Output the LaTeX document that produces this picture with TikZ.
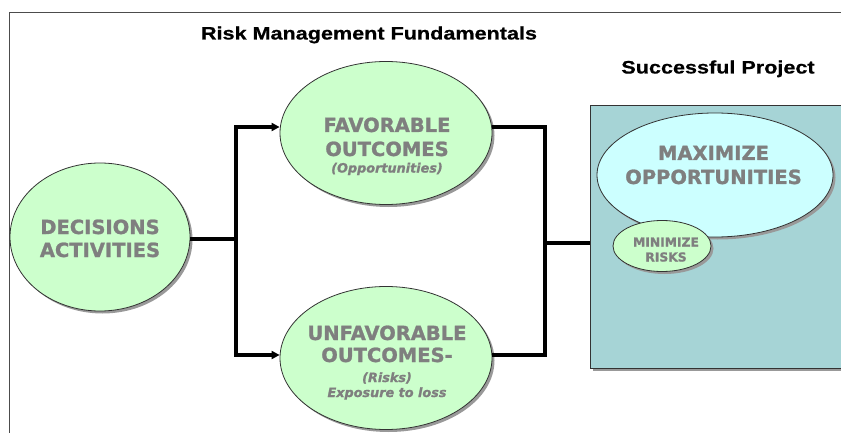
\documentclass[tikz,border=0pt]{standalone}
\usepackage{fontspec}
\setmainfont{Liberation Sans}[BoldFeatures={FakeBold=0.6}]
\newfontfamily\dv{DejaVu Sans}[BoldFeatures={FakeBold=1.2}, BoldItalicFeatures={FakeBold=1.2}]
\usetikzlibrary{shapes.geometric,shadows,arrows.meta}
\definecolor{txtgray}{HTML}{7F7F7F}
\definecolor{lgreen}{HTML}{CCFFCC}
\definecolor{lcyan}{HTML}{CCFFFF}
\definecolor{teal}{HTML}{A6D4D6}
\tikzset{
  ell/.style={ellipse, draw=black!80, line width=0.8pt, inner sep=0pt, fill=lgreen,
    drop shadow={shadow xshift=2.5pt, shadow yshift=-2.5pt, fill=black!40, opacity=1}},
  big/.style={font=\dv\bfseries\fontsize{19.5}{23}\selectfont, text=txtgray, inner sep=0pt, anchor=base},
  mid/.style={font=\dv\bfseries\fontsize{12.3}{14}\selectfont, text=txtgray, inner sep=0pt, anchor=base},
  sml/.style={font=\dv\bfseries\itshape\fontsize{12.8}{14}\selectfont, text=txtgray, inner sep=0pt, anchor=base},
  ttl/.style={font=\bfseries\fontsize{18}{20}\selectfont, inner sep=0pt, anchor=base},
  conn/.style={line width=3.3pt, black},
  arr/.style={conn, -{Triangle[length=8pt,width=8pt]}},
}
\begin{document}
\begin{tikzpicture}[x=1pt,y=-1pt]
\useasboundingbox (0,0) rectangle (841,433);
\clip (0,0) rectangle (841,433);
% frame
\draw[black!70, line width=1.3pt] (9.5,440) -- (9.5,12.5) -- (850,12.5);
% titles
\node[ttl] (title) at (369,39.5) {\scalebox{1.2}[1]{Risk Management Fundamentals}};
\node[ttl] (sp) at (718,73.5) {\scalebox{1.2}[1]{Successful Project}};
% project box
\node[draw=black!80, line width=0.8pt, fill=teal, minimum width=280pt, minimum height=263pt,
  anchor=north west, inner sep=0pt,
  drop shadow={shadow xshift=3pt, shadow yshift=-3pt, fill=black!40, opacity=1}] (proj) at (590,105) {};
% ellipses
\node[ell, minimum width=180pt, minimum height=148pt] (dec) at (100,237) {};
\node[ell, minimum width=212pt, minimum height=143pt] (fav) at (386,133) {};
\node[ell, minimum width=212pt, minimum height=143pt] (unf) at (386,358) {};
\node[ell, fill=lcyan, minimum width=236pt, minimum height=124pt] (maxo) at (715,175) {};
\node[ell, minimum width=98pt, minimum height=51pt] (mini) at (662,246) {};
% texts
\node[big] (t1) at (100,234) {DECISIONS};
\node[big] (t2) at (100,257) {ACTIVITIES};
\node[big] (t3) at (387,132) {FAVORABLE};
\node[big] (t4) at (387,156) {OUTCOMES};
\node[sml] (t5) at (387,172.5) {(Opportunities)};
\node[big] (t6) at (387,340) {UNFAVORABLE};
\node[big] (t7) at (387,362) {OUTCOMES-};
\node[sml] (t8) at (387,382) {(Risks)};
\node[sml] (t9) at (387,397) {Exposure to loss};
\node[big] (t10) at (713.5,160) {MAXIMIZE};
\node[big] (t11) at (713.5,184) {OPPORTUNITIES};
\node[mid] (t12) at (666,246.5) {MINIMIZE};
\node[mid] (t13) at (666,261.5) {RISKS};
% connectors
\coordinate (j1) at (236,239);
\coordinate (jt) at (545,127);
\coordinate (jb) at (545,355);
\coordinate (jm) at (545,243);
\draw[conn] ([yshift=-2pt]dec.east) -- (j1);
\draw[arr] (j1) |- ([yshift=6pt]fav.west);
\draw[arr] (j1) |- ([yshift=3pt]unf.west);
\draw[conn] ([yshift=6pt]fav.east) -- (jt) -- (jb) -- ([yshift=3pt]unf.east);
\draw[conn] (jm) -- (proj.west |- jm);
\end{tikzpicture}
\end{document}
